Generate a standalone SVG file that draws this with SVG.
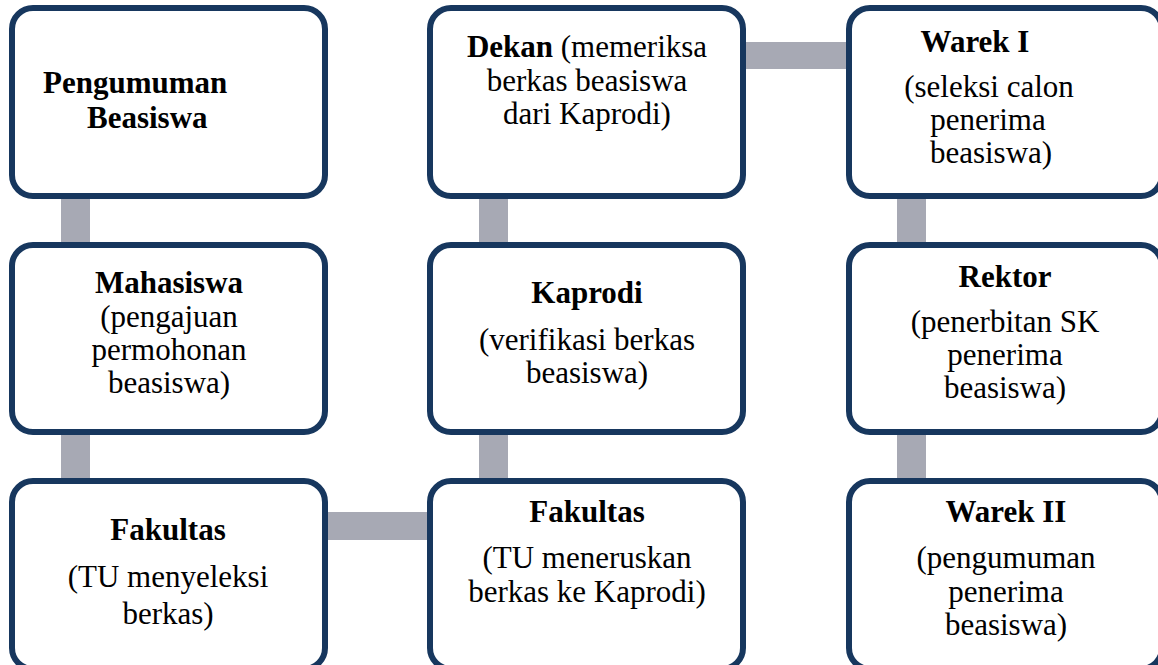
<svg xmlns="http://www.w3.org/2000/svg" width="1158" height="665" viewBox="0 0 1158 665">
<style>
.box{fill:#ffffff;stroke:#17375e;stroke-width:6}
.con{fill:#a7a9b4}
text{font-family:"Liberation Serif","Times New Roman",serif;font-size:31px;fill:#000}
.b{font-weight:bold}
.c{text-anchor:middle}
</style>
<rect width="1158" height="665" fill="#ffffff"/>
<g id="connectors">
<rect class="con" x="61" y="190" width="29" height="60"/>
<rect class="con" x="61" y="428" width="29" height="58"/>
<rect class="con" x="479" y="190" width="29" height="60"/>
<rect class="con" x="479" y="428" width="29" height="58"/>
<rect class="con" x="897" y="190" width="29" height="60"/>
<rect class="con" x="897" y="428" width="29" height="58"/>
<rect class="con" x="320" y="512" width="115" height="28"/>
<rect class="con" x="738" y="42" width="116" height="27"/>
</g>
<g id="pengumuman">
<rect class="box" x="12" y="8" width="313" height="188" rx="21"/>
<text class="b" x="43" y="93">Pengumuman</text>
<text class="b" x="87" y="128">Beasiswa</text>
</g>
<g id="mahasiswa">
<rect class="box" x="12" y="245" width="313" height="187" rx="21"/>
<text class="c" x="169" y="293"><tspan class="b">Mahasiswa</tspan></text>
<text class="c" x="169" y="327">(pengajuan</text>
<text class="c" x="169" y="360">permohonan</text>
<text class="c" x="169" y="393">beasiswa)</text>
</g>
<g id="fakultas1">
<rect class="box" x="12" y="481" width="313" height="188" rx="21"/>
<text class="c b" x="168" y="540">Fakultas</text>
<text class="c" x="168" y="587">(TU menyeleksi</text>
<text class="c" x="168" y="624">berkas)</text>
</g>
<g id="fakultas2">
<rect class="box" x="430" y="481" width="313" height="188" rx="21"/>
<text class="c b" x="587" y="522">Fakultas</text>
<text class="c" x="587" y="568">(TU meneruskan</text>
<text class="c" x="587" y="602">berkas ke Kaprodi)</text>
</g>
<g id="kaprodi">
<rect class="box" x="430" y="245" width="313" height="187" rx="21"/>
<text class="c b" x="587" y="303">Kaprodi</text>
<text class="c" x="587" y="350">(verifikasi berkas</text>
<text class="c" x="587" y="383">beasiswa)</text>
</g>
<g id="dekan">
<rect class="box" x="430" y="8" width="313" height="188" rx="21"/>
<text class="c" x="587" y="57"><tspan class="b">Dekan</tspan> (memeriksa</text>
<text class="c" x="587" y="91">berkas beasiswa</text>
<text class="c" x="587" y="124">dari Kaprodi)</text>
</g>
<g id="warek1">
<rect class="box" x="849" y="8" width="313" height="188" rx="21"/>
<text class="c b" x="975" y="52">Warek I</text>
<text class="c" x="989" y="97">(seleksi calon</text>
<text class="c" x="988" y="130">penerima</text>
<text class="c" x="991" y="163">beasiswa)</text>
</g>
<g id="rektor">
<rect class="box" x="849" y="245" width="313" height="187" rx="21"/>
<text class="c b" x="1005" y="287">Rektor</text>
<text class="c" x="1005" y="332">(penerbitan SK</text>
<text class="c" x="1005" y="365">penerima</text>
<text class="c" x="1005" y="398">beasiswa)</text>
</g>
<g id="warek2">
<rect class="box" x="849" y="481" width="313" height="188" rx="21"/>
<text class="c b" x="1006" y="522">Warek II</text>
<text class="c" x="1006" y="568">(pengumuman</text>
<text class="c" x="1006" y="602">penerima</text>
<text class="c" x="1006" y="635">beasiswa)</text>
</g>
</svg>
